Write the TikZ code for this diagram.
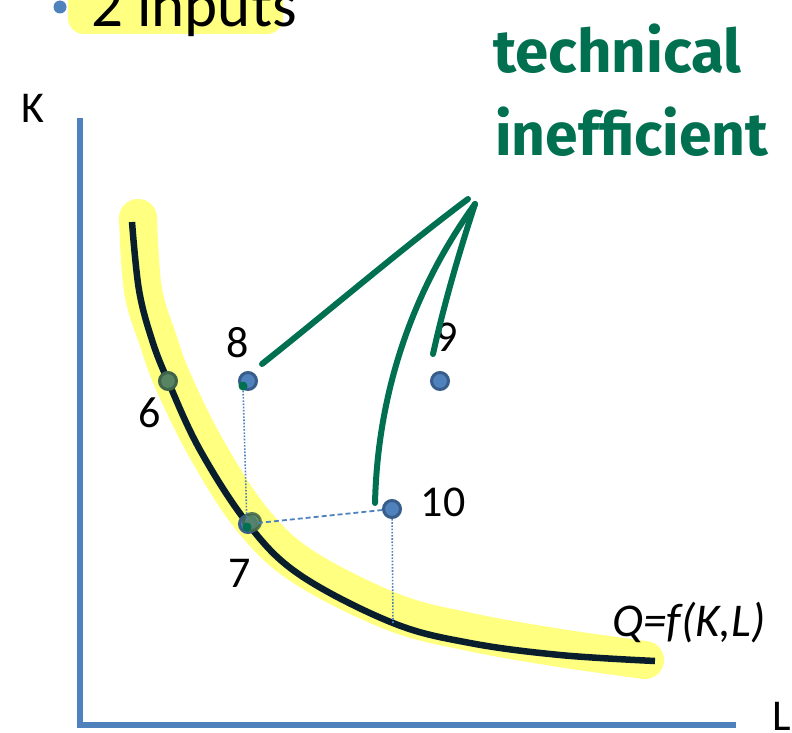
\documentclass[tikz,border=0pt]{standalone}
\usepackage{fontspec}
\setmainfont{Carlito}
\newfontfamily\handfont{Fira Sans}
\definecolor{axisblue}{RGB}{79,129,189}
\definecolor{ptedge}{RGB}{56,93,138}
\definecolor{hl}{RGB}{255,255,128}
\definecolor{curvec}{RGB}{8,30,44}
\definecolor{pen}{RGB}{0,112,80}
\definecolor{ptgreen}{RGB}{88,132,98}
\definecolor{ptgreenedge}{RGB}{64,100,74}
\begin{document}
\begin{tikzpicture}[x=1pt,y=-1pt,
  ptblue/.style={circle,fill=axisblue,draw=ptedge,line width=3pt,minimum size=17pt,inner sep=0pt},
  ptgr/.style={circle,fill=ptgreen,draw=ptgreenedge,line width=3pt,minimum size=17pt,inner sep=0pt},
  pendot/.style={circle,fill=pen,minimum size=9pt,inner sep=0pt},
  lab/.style={font=\fontsize{44}{52}\selectfont,inner sep=0pt},
  penline/.style={draw=pen,line width=6pt,line cap=round},
  guide/.style={draw=axisblue,line width=1.6pt,dash pattern=on 1.6pt off 1.6pt},
  guidedash/.style={draw=axisblue,line width=1.8pt,dash pattern=on 5pt off 3pt},
  hand/.style={font=\handfont\bfseries\fontsize{60}{66}\selectfont,text=pen,inner sep=0pt,anchor=base west}
]
\useasboundingbox (0,0) rectangle (792,733);
% title bullet
\fill[hl,rounded corners=16pt] (68,-30) rectangle (283,34);
\fill[axisblue] (60,7) circle (6.5pt);
\node[font=\fontsize{63}{70}\selectfont,inner sep=0pt,anchor=base west] (title) at (91,27) {2 inputs};
% handwriting
\node[hand] (tech) at (493,73) {technical};
\node[hand,xscale=0.98] (ineff) at (495,155) {inefficient};
% axes
\coordinate (ktop) at (80,118);
\coordinate (origin) at (80,725);
\coordinate (lend) at (736,725);
\draw[axisblue,line width=6pt,line join=miter] (ktop) -- (origin) -- (lend);
\node[lab] (K) at (33,108) {K};
\node[lab] (L) at (782,716) {L};
% isoquant highlight and curve
\draw[hl,line width=38pt,line cap=round,line join=round] plot[smooth,tension=0.6] coordinates {
 (138,218) (143,290) (158,340) (173,381) (206,448) (251,518) (302,566) (393,612) (470,632) (560,648) (645,660)};
\draw[curvec,line width=6.5pt] plot[smooth,tension=0.6] coordinates {
 (132,222) (139,290) (152,340) (168,381) (200,450) (248,524) (300,575) (393,623) (470,643) (560,655) (655,661)};
\coordinate (onq) at (393,624);
\node[font=\itshape\fontsize{47}{54}\selectfont,inner sep=0pt] (Q) at (689,623) {Q=f(K,L)};
% points
\node[ptgr] (p6) at (168,381) {};
\node[ptblue] (p8) at (248,381) {};
\node[ptblue] (p9) at (440,381) {};
\node[ptblue] (p10) at (392,509) {};
\node[ptblue] (p7) at (248,524) {};
\node[ptgr,opacity=0.85] (p7g) at (252,522) {};
\node[pendot] (g8) at (243,386) {};
\node[pendot] (g7) at (247,527) {};
% guides
\draw[guide] (g8) -- (g7);
\draw[guidedash] (p7) -- (p10);
\draw[guide] (p10) -- (onq);
% labels
\node[lab] (l8) at (238,343) {8};
\node[lab] (l9) at (447,337) {9};
\node[lab] (l6) at (150,413) {6};
\node[lab] (l10) at (443,502) {10};
\node[lab] (l7) at (240,573) {7};
% pen strokes
\coordinate (hubA) at (468,199);
\coordinate (hubB) at (475,204);
\coordinate (e8) at (262,364);
\coordinate (e10) at (375,503);
\coordinate (e9) at (433,354);
\draw[penline] (e8) .. controls (330,310) and (400,250) .. (hubA);
\draw[penline] (hubB) .. controls (420,280) and (378,380) .. (e10);
\draw[penline] (hubB) .. controls (460,250) and (445,300) .. (e9);
\end{tikzpicture}
\end{document}
